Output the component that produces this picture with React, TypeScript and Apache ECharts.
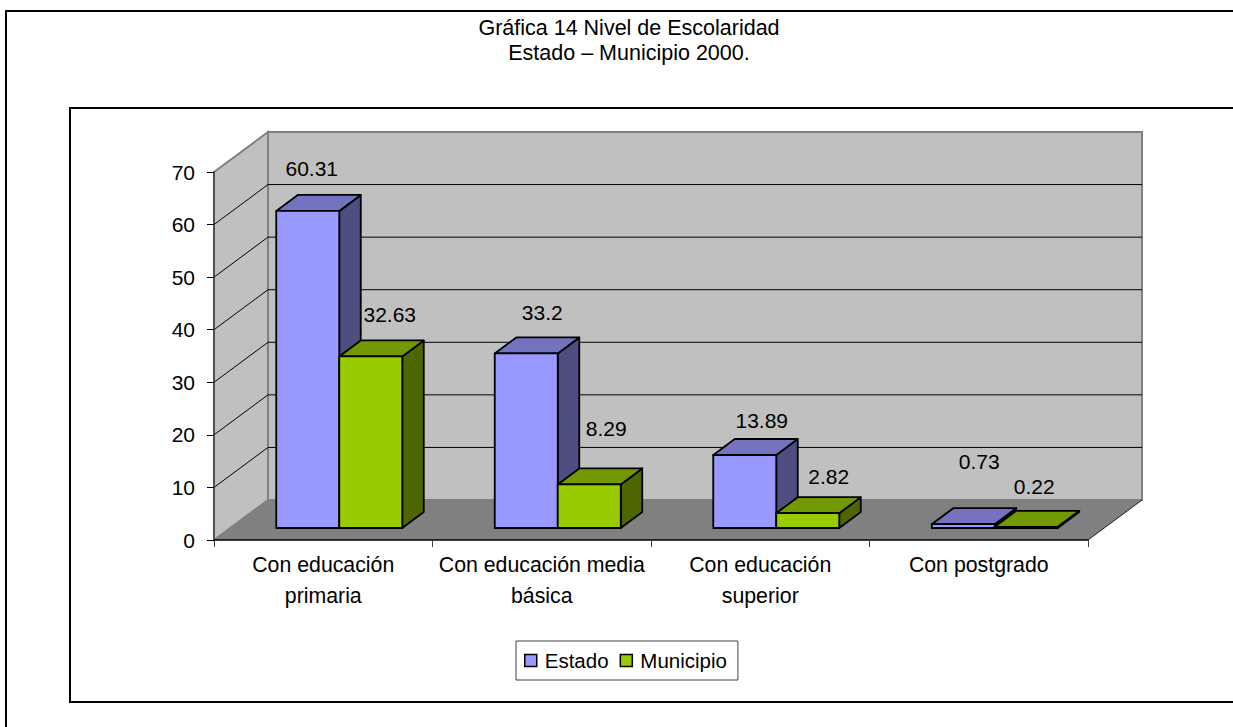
import React, { useEffect, useRef } from "react";
import * as echarts from "echarts";

const categories = [
  "Con educación\nprimaria",
  "Con educación media\nbásica",
  "Con educación\nsuperior",
  "Con postgrado",
];
const estado = [60.31, 33.2, 13.89, 0.73];
const municipio = [32.63, 8.29, 2.82, 0.22];
const yTicks = [10, 20, 30, 40, 50, 60];
const titleText = "Gráfica 14 Nivel de Escolaridad\nEstado – Municipio 2000.";

const FONT = "'Liberation Sans', Arial, sans-serif";
const WALL_DX = 54;
const WALL_DY = -40;
const BAR_DX = 16;
const BAR_DY = -12;
const DEPTH_DX = 21.5;
const DEPTH_DY = -16;
const BAR_RATIO = 63 / 218.5;

// label offset from the centre of the bar's top front edge
const estadoLabelOffset = [[4, -42], [16, -41], [17, -34], [16, -63]];
const municipioLabelOffset = [[19, -42], [17, -56], [21, -37], [8, -40]];

const wallsRender = (params: any, api: any) => {
  const cs = params.coordSys;
  const x0 = cs.x;
  const x1 = cs.x + cs.width;
  const yTop = cs.y;
  const yBot = cs.y + cs.height;
  const gray = "#808080";
  const floor = [[x0, yBot], [x0 + WALL_DX, yBot + WALL_DY], [x1 + WALL_DX, yBot + WALL_DY], [x1, yBot]];
  const children: any[] = [
    {
      type: "polygon",
      shape: { points: [[x0, yTop], [x0 + WALL_DX, yTop + WALL_DY], [x0 + WALL_DX, yBot + WALL_DY], [x0, yBot]] },
      style: { fill: "#C0C0C0", stroke: gray, lineWidth: 2 },
    },
    {
      type: "rect",
      shape: { x: x0 + WALL_DX, y: yTop + WALL_DY, width: cs.width, height: cs.height },
      style: { fill: "#C0C0C0", stroke: gray, lineWidth: 2 },
    },
    {
      type: "polygon",
      shape: { points: floor },
      style: { fill: "#808080" },
    },
    {
      type: "line",
      shape: { x1: x1, y1: yBot, x2: x1 + WALL_DX, y2: yBot + WALL_DY },
      style: { stroke: "#202020", lineWidth: 1 },
    },
  ];
  yTicks.forEach((v) => {
    const y = api.coord([0, v])[1];
    children.push({
      type: "polyline",
      shape: { points: [[x0, y], [x0 + WALL_DX, y + WALL_DY], [x1 + WALL_DX, y + WALL_DY]] },
      style: { stroke: "#000", lineWidth: 1, fill: "none" },
    });
  });
  return { type: "group", children };
};

const barRender = (side: number, front: string, top: string, dark: string, values: number[], offsets: number[][]) =>
  (params: any, api: any) => {
    const idx = api.value(0);
    const val = api.value(1);
    const cw = api.size([1, 0])[0];
    const w = cw * BAR_RATIO;
    const center = api.coord([idx, 0])[0];
    const l = center + BAR_DX + (side < 0 ? -w : 0);
    const r = l + w;
    const yb = api.coord([idx, 0])[1] + BAR_DY;
    const yt = api.coord([idx, val])[1] + BAR_DY;
    const edge = { stroke: "#000", lineWidth: 1.8, lineJoin: "round" };
    const off = offsets[params.dataIndex];
    return {
      type: "group",
      children: [
        {
          type: "polygon",
          shape: { points: [[r, yt], [r + DEPTH_DX, yt + DEPTH_DY], [r + DEPTH_DX, yb + DEPTH_DY], [r, yb]] },
          style: { fill: dark, ...edge },
        },
        {
          type: "polygon",
          shape: { points: [[l, yt], [l + DEPTH_DX, yt + DEPTH_DY], [r + DEPTH_DX, yt + DEPTH_DY], [r, yt]] },
          style: { fill: top, ...edge },
        },
        {
          type: "rect",
          shape: { x: l, y: yt, width: w, height: yb - yt },
          style: { fill: front, ...edge },
        },
        {
          type: "text",
          style: {
            text: String(values[params.dataIndex]),
            x: (l + r) / 2 + off[0],
            y: yt + off[1],
            align: "center",
            verticalAlign: "middle",
            font: `21px ${FONT}`,
            fill: "#000",
          },
        },
      ],
    };
  };

export default function App() {
  const ref = useRef<HTMLDivElement>(null);
  useEffect(() => {
    const chart = echarts.init(ref.current!, undefined, { renderer: "svg" });
    const frame = (x1: number, y1: number, x2: number, y2: number) => ({
      type: "line",
      shape: { x1, y1, x2, y2 },
      style: { stroke: "#000", lineWidth: 2 },
      silent: true,
    });
    chart.setOption({
      animation: false,
      backgroundColor: "#fff",
      textStyle: { fontFamily: FONT },
      title: {
        text: titleText,
        left: 624,
        top: 10,
        textAlign: "center",
        textStyle: { fontSize: 21.5, lineHeight: 25, fontWeight: "normal", color: "#000", fontFamily: FONT },
      },
      graphic: [
        frame(6, 11, 1233, 11),
        frame(6, 10, 6, 727),
        frame(70, 108, 1233, 108),
        frame(70, 107, 70, 703),
        frame(70, 702, 1233, 702),
      ],
      legend: {
        left: 516,
        top: 641,
        orient: "horizontal",
        padding: [9, 11, 9, 8],
        itemGap: 11,
        itemWidth: 12,
        itemHeight: 12,
        borderColor: "#404040",
        borderWidth: 1,
        borderRadius: 0,
        selectedMode: false,
        textStyle: { fontSize: 20.5, color: "#000", fontFamily: FONT, padding: [0, 0, 3, 3] },
        data: [
          { name: "Estado", icon: "rect", itemStyle: { color: "#9999FF", borderColor: "#000", borderWidth: 1.5 } },
          { name: "Municipio", icon: "rect", itemStyle: { color: "#99CC00", borderColor: "#000", borderWidth: 1.5 } },
        ],
      },
      grid: { left: 214, right: 145, top: 172, bottom: 187 },
      xAxis: {
        type: "category",
        data: categories,
        z: 3,
        boundaryGap: true,
        axisLine: { lineStyle: { color: "#000", width: 1.5 } },
        axisTick: { show: true, length: 7, interval: 0, lineStyle: { color: "#404040", width: 1 } },
        axisLabel: { interval: 0, fontSize: 21.3, lineHeight: 31, color: "#000", margin: 9, fontFamily: FONT },
        splitLine: { show: false },
      },
      yAxis: {
        type: "value",
        min: 0,
        max: 70,
        interval: 10,
        z: 3,
        axisLine: { show: true, lineStyle: { color: "#404040", width: 1.5 } },
        axisTick: { show: true, length: 7, lineStyle: { color: "#000", width: 1 } },
        axisLabel: { fontSize: 21, color: "#000", margin: 19, fontFamily: FONT },
        splitLine: { show: false },
      },
      series: [
        {
          type: "custom",
          name: "walls",
          z: 1,
          silent: true,
          clip: false,
          data: [[0, 0]],
          encode: { x: 0, y: 1 },
          renderItem: wallsRender,
        },
        {
          type: "custom",
          name: "Estado",
          z: 2,
          clip: false,
          itemStyle: { color: "#9999FF" },
          data: estado.map((v, i) => [i, v]),
          encode: { x: 0, y: 1 },
          renderItem: barRender(-1, "#9999FF", "#7373BF", "#4D4D80", estado, estadoLabelOffset),
        },
        {
          type: "custom",
          name: "Municipio",
          z: 2,
          clip: false,
          itemStyle: { color: "#99CC00" },
          data: municipio.map((v, i) => [i, v]),
          encode: { x: 0, y: 1 },
          renderItem: barRender(1, "#99CC00", "#739900", "#4D6600", municipio, municipioLabelOffset),
        },
      ],
    });
    return () => chart.dispose();
  }, []);
  return <div ref={ref} style={{ position: "fixed", left: 0, top: 0, width: 1233, height: 727 }} />;
}
